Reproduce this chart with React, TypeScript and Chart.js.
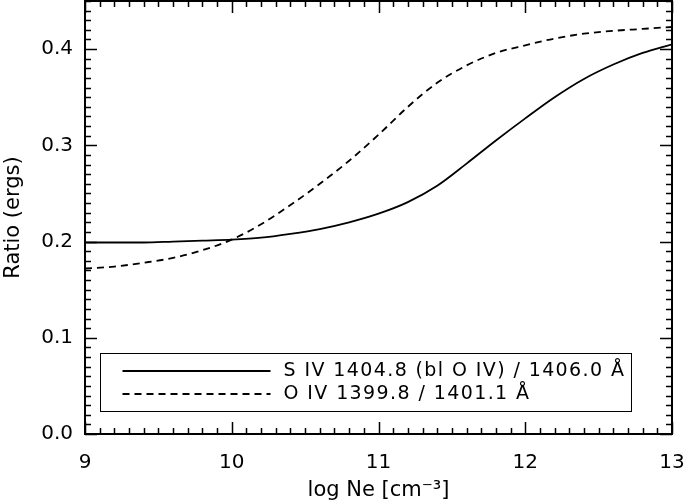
import React, { useEffect, useRef } from 'react';
import { Chart, registerables } from 'chart.js';

Chart.register(...registerables);

const logNe = [9.0, 9.2, 9.4, 9.6, 9.8, 10.0, 10.2, 10.4, 10.6, 10.8, 11.0, 11.2, 11.4, 11.6, 11.8, 12.0, 12.2, 12.4, 12.6, 12.8, 13.0];
const sivRatio = [0.199, 0.199, 0.199, 0.200, 0.201, 0.202, 0.204, 0.208, 0.213, 0.220, 0.229, 0.241, 0.258, 0.281, 0.305, 0.328, 0.350, 0.369, 0.384, 0.396, 0.405];
const oivRatio = [0.172, 0.174, 0.178, 0.183, 0.191, 0.202, 0.218, 0.238, 0.260, 0.284, 0.311, 0.340, 0.365, 0.383, 0.396, 0.404, 0.411, 0.416, 0.419, 0.421, 0.423];
const xTickValues = [9, 10, 11, 12, 13];
const yTickValues = [0.0, 0.1, 0.2, 0.3, 0.4];
const seriesLabels = ['S IV 1404.8 (bl O IV) / 1406.0 Å', 'O IV 1399.8 / 1401.1 Å'];
const xTitle = 'log Ne [cm⁻³]';
const yTitle = 'Ratio (ergs)';

const FONT = "'DejaVu Sans', sans-serif";

const frameTicksPlugin = {
  id: 'frameTicks',
  afterDraw(chart: any) {
    const { ctx, chartArea } = chart;
    const xs = chart.scales.x;
    const ys = chart.scales.y;
    const { left, right, top, bottom } = chartArea;
    ctx.save();
    ctx.strokeStyle = '#000';
    ctx.lineWidth = 2;
    ctx.strokeRect(left, top, right - left, bottom - top);
    ctx.lineWidth = 1.5;
    const major = 12;
    const minor = 6;
    for (let i = 0; i <= 40; i++) {
      const v = xs.min + i * 0.1;
      const px = Math.round(xs.getPixelForValue(v)) + 0.5;
      const len = i % 10 === 0 ? major : minor;
      ctx.beginPath();
      ctx.moveTo(px, bottom);
      ctx.lineTo(px, bottom - len);
      ctx.moveTo(px, top);
      ctx.lineTo(px, top + len);
      ctx.stroke();
    }
    for (let i = 0; i <= 45; i++) {
      const v = i * 0.01;
      if (v > ys.max + 1e-9) break;
      const py = Math.round(ys.getPixelForValue(v)) + 0.5;
      const len = i % 10 === 0 ? major : minor;
      ctx.beginPath();
      ctx.moveTo(left, py);
      ctx.lineTo(left + len, py);
      ctx.moveTo(right, py);
      ctx.lineTo(right - len, py);
      ctx.stroke();
    }
    ctx.restore();
  },
};

const boxLegendPlugin = {
  id: 'boxLegend',
  afterDraw(chart: any) {
    const { ctx, chartArea } = chart;
    const bx0 = chartArea.left + 15.5;
    const bx1 = chartArea.right - 40.5;
    const by0 = 353.5;
    const by1 = 411.5;
    ctx.save();
    ctx.fillStyle = '#fff';
    ctx.fillRect(bx0, by0, bx1 - bx0, by1 - by0);
    ctx.strokeStyle = '#000';
    ctx.lineWidth = 1;
    ctx.strokeRect(bx0, by0, bx1 - bx0, by1 - by0);
    const rows = [371, 394];
    chart.data.datasets.forEach((ds: any, i: number) => {
      const y = rows[i];
      ctx.beginPath();
      ctx.lineWidth = ds.borderWidth;
      ctx.setLineDash(ds.borderDash || []);
      ctx.moveTo(bx0 + 22, y);
      ctx.lineTo(bx0 + 170, y);
      ctx.stroke();
      ctx.setLineDash([]);
      ctx.fillStyle = '#000';
      ctx.font = `19px ${FONT}`;
      try { (ctx as any).letterSpacing = '1.4px'; } catch (e) {}
      ctx.textBaseline = 'middle';
      ctx.textAlign = 'left';
      ctx.fillText(ds.label, bx0 + 183, y);
      try { (ctx as any).letterSpacing = '0px'; } catch (e) {}
    });
    ctx.restore();
  },
};

export default function App() {
  const canvasRef = useRef<HTMLCanvasElement | null>(null);

  useEffect(() => {
    if (!canvasRef.current) return;
    const chart = new Chart(canvasRef.current, {
      type: 'line',
      data: {
        datasets: [
          {
            label: seriesLabels[0],
            data: logNe.map((x, i) => ({ x, y: sivRatio[i] })),
            borderColor: '#000',
            borderWidth: 1.8,
            pointRadius: 0,
            cubicInterpolationMode: 'monotone',
            fill: false,
          },
          {
            label: seriesLabels[1],
            data: logNe.map((x, i) => ({ x, y: oivRatio[i] })),
            borderColor: '#000',
            borderWidth: 1.8,
            borderDash: [7, 5],
            pointRadius: 0,
            cubicInterpolationMode: 'monotone',
            fill: false,
          },
        ],
      },
      options: {
        responsive: false,
        devicePixelRatio: 1,
        animation: false,
        layout: { padding: { top: 1, right: 13, bottom: 0, left: 0 } },
        plugins: {
          legend: { display: false },
          tooltip: { enabled: false },
        },
        scales: {
          x: {
            type: 'linear',
            min: 9,
            max: 13,
            afterBuildTicks: (s: any) => {
              s.ticks = xTickValues.map((v) => ({ value: v }));
            },
            afterFit: (s: any) => {
              s.height = 70;
              s.paddingLeft = 0;
              s.paddingRight = 0;
            },
            grid: { display: false, drawTicks: false },
            border: { display: false },
            ticks: {
              color: '#000',
              font: { family: FONT, size: 20 },
              padding: 17,
              maxRotation: 0,
              autoSkip: false,
              callback: (v: any) => String(v),
            },
            title: {
              display: true,
              text: xTitle,
              color: '#000',
              font: { family: FONT, size: 21 },
              padding: { top: 0, bottom: 1 },
            },
          },
          y: {
            type: 'linear',
            min: 0,
            max: 0.45,
            afterBuildTicks: (s: any) => {
              s.ticks = yTickValues.map((v) => ({ value: v }));
            },
            afterFit: (s: any) => {
              s.width = 85;
              s.paddingTop = 0;
              s.paddingBottom = 0;
            },
            grid: { display: false, drawTicks: false },
            border: { display: false },
            ticks: {
              color: '#000',
              font: { family: FONT, size: 20 },
              padding: 12,
              autoSkip: false,
              callback: (v: any) => Number(v).toFixed(1),
            },
            title: {
              display: true,
              text: yTitle,
              color: '#000',
              font: { family: FONT, size: 21 },
              padding: { top: 1, bottom: 0 },
            },
          },
        },
      },
      plugins: [frameTicksPlugin, boxLegendPlugin],
    });
    return () => chart.destroy();
  }, []);

  return (
    <div style={{ position: 'absolute', left: 0, top: 0, width: 685, height: 504, background: '#fff' }}>
      <canvas ref={canvasRef} width={685} height={504} style={{ display: 'block' }} />
    </div>
  );
}
